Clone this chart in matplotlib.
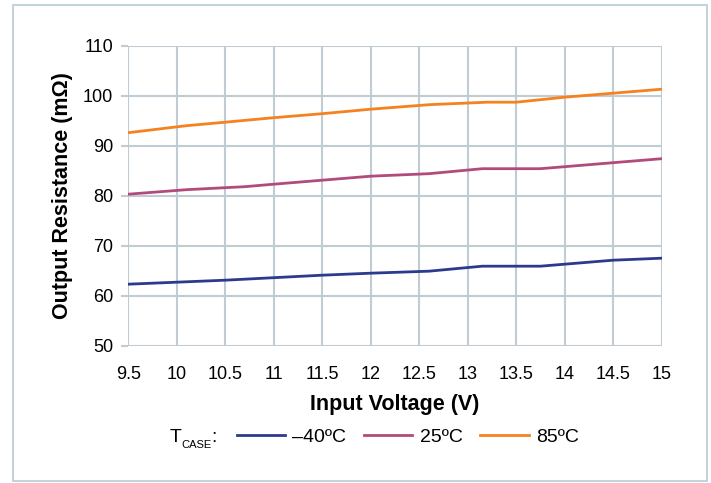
import matplotlib.pyplot as plt
from matplotlib.patches import Rectangle

plt.rcParams['font.family'] = ['Liberation Sans', 'DejaVu Sans']

# input voltage (V) and output resistance (mOhm)
v_cold = [9.5, 10.0, 10.5, 11.0, 11.5, 12.0, 12.6, 13.15, 13.75, 14.0, 14.5, 15.0]
r_cold = [62.3, 62.7, 63.1, 63.6, 64.1, 64.5, 64.9, 65.9, 65.9, 66.3, 67.1, 67.5]

v_room = [9.5, 10.1, 10.7, 11.0, 11.5, 12.0, 12.6, 13.15, 13.75, 14.0, 14.5, 15.0]
r_room = [80.3, 81.2, 81.8, 82.3, 83.1, 83.9, 84.4, 85.4, 85.4, 85.8, 86.6, 87.4]

v_hot = [9.5, 10.1, 10.5, 11.0, 11.5, 12.0, 12.6, 13.2, 13.5, 14.0, 14.5, 15.0]
r_hot = [92.6, 94.0, 94.7, 95.6, 96.4, 97.3, 98.2, 98.7, 98.7, 99.7, 100.5, 101.3]

labels = ['\u201340\u00baC', '25\u00baC', '85\u00baC']
colors = ['#2b3a8f', '#b24a7c', '#f58220']

x_ticks = [9.5, 10, 10.5, 11, 11.5, 12, 12.5, 13, 13.5, 14, 14.5, 15]
x_tick_labels = ['9.5', '10', '10.5', '11', '11.5', '12', '12.5', '13', '13.5', '14', '14.5', '15']
y_ticks = [50, 60, 70, 80, 90, 100, 110]

grid_col = '#bfccd3'

fig = plt.figure(figsize=(7.11, 4.83), dpi=100)
# outer frame
fig.patches.append(Rectangle((13 / 711, 2 / 483), 694 / 711, 476 / 483,
                             transform=fig.transFigure, fill=False,
                             edgecolor='#b9cad2', linewidth=1.2))

ax = fig.add_axes([0.1805, 0.2843, 0.7502, 0.6211])
ax.plot(v_cold, r_cold, color=colors[0], lw=2.0, label=labels[0])
ax.plot(v_room, r_room, color=colors[1], lw=2.0, label=labels[1])
ax.plot(v_hot, r_hot, color=colors[2], lw=2.0, label=labels[2])

ax.set_xlim(9.5, 15)
ax.set_ylim(50, 110)
ax.set_xticks(x_ticks)
ax.set_xticklabels(x_tick_labels)
ax.set_yticks(y_ticks)
ax.grid(True, color=grid_col, lw=1.5)
ax.set_axisbelow(True)
for s in ax.spines.values():
    s.set_visible(False)
ax.tick_params(axis='both', colors=grid_col, labelcolor='black', labelsize=13,
               length=5, width=1.5)
ax.tick_params(axis='x', length=0, pad=14.5)
ax.tick_params(axis='y', pad=6)

ax.set_xlabel('Input Voltage (V)', fontsize=15.5, fontweight='bold', labelpad=8)
ax.set_ylabel('Output Resistance (m\u03a9)', fontsize=15.5, fontweight='bold', labelpad=7)

fig.legend(loc='center left', bbox_to_anchor=(237 / 711, 0.095), ncol=3, frameon=False,
           fontsize=14, handlelength=2.47, handletextpad=0.37, columnspacing=0.93,
           borderpad=0, borderaxespad=0)
fig.text(170 / 711, 0.095, 'T', fontsize=14, va='center', ha='left')
fig.text(181 / 711, 0.078, 'CASE', fontsize=8, va='center', ha='left')
fig.text(211 / 711, 0.095, ':', fontsize=14, va='center', ha='left')

fig.savefig('out.png', dpi=100)
